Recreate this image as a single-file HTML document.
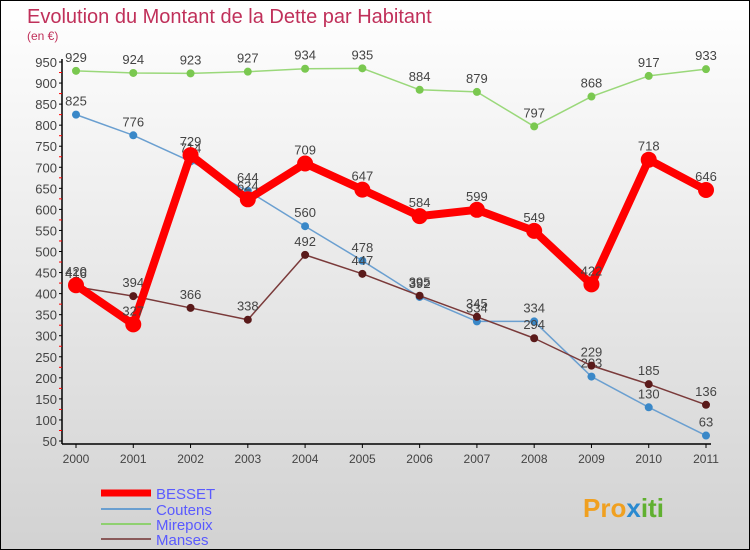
<!DOCTYPE html>
<html><head><meta charset="utf-8"><style>
body{margin:0}
#c{width:748px;height:548px;border:1px solid #000;background:linear-gradient(#fff,#d2d2d2);position:relative;font-family:"Liberation Sans",sans-serif;overflow:hidden}
</style></head><body>
<div id="c">
<svg id="s" width="748" height="548" style="position:absolute;left:0;top:0">
<text x="26" y="22" font-size="20" fill="#c0305a">Evolution du Montant de la Dette par Habitant</text>
<text x="26" y="39" font-size="12" fill="#c0305a">(en €)</text>
<g id="ax"></g><g id="ser"></g>
<g font-size="15" fill="#5a5aff">
<line x1="100" y1="492" x2="150" y2="492" stroke="#f00" stroke-width="7"/>
<text x="155" y="498">BESSET</text>
<line x1="100" y1="508" x2="150" y2="508" stroke="#6a9fd0" stroke-width="2"/>
<text x="155" y="514">Coutens</text>
<line x1="100" y1="523" x2="150" y2="523" stroke="#8fd070" stroke-width="2"/>
<text x="155" y="529">Mirepoix</text>
<line x1="100" y1="538" x2="150" y2="538" stroke="#8a5a5a" stroke-width="2"/>
<text x="155" y="544">Manses</text>
</g>
<text x="582" y="516" font-size="26" font-weight="bold" fill="#f0a020">Pro<tspan fill="#2a8ad0">x</tspan><tspan fill="#60b030">iti</tspan></text>
</svg>
</div>
<script>
const years=["2000","2001","2002","2003","2004","2005","2006","2007","2008","2009","2010","2011"];
const besset=[420,327,729,624,709,647,584,599,549,422,718,646];
const coutens=[825,776,714,644,560,478,392,334,334,203,130,63];
const mirepoix=[929,924,923,927,934,935,884,879,797,868,917,933];
const manses=[416,394,366,338,492,447,395,345,294,229,185,136];
const yTicks=[50,100,150,200,250,300,350,400,450,500,550,600,650,700,750,800,850,900,950];
const NS="http://www.w3.org/2000/svg";
const X=i=>75+i*(630/11), Y=v=>440-(v-50)*(379/900);
function mk(t,a,p){const e=document.createElementNS(NS,t);for(const k in a)e.setAttribute(k,a[k]);p.appendChild(e);return e;}
const ax=document.getElementById('ax'), ser=document.getElementById('ser');
let l=mk('line',{x1:61,y1:58,x2:61,y2:443,stroke:'#000','stroke-width':1.5},ax);


l=mk('line',{x1:61,y1:443,x2:710,y2:443,stroke:'#000','stroke-width':1.5},ax);


yTicks.forEach((v,i)=>{
 mk('line',{x1:58,y1:Y(v),x2:61,y2:Y(v),stroke:'#000'},ax);
 if(i<yTicks.length-1) mk('line',{x1:58,y1:Y(v+25),x2:61,y2:Y(v+25),stroke:'#f00'},ax);
 const t=mk('text',{x:56,y:Y(v)+5,'text-anchor':'end','font-size':13,fill:'#444'},ax);t.textContent=v;
 
 
});
years.forEach((y,i)=>{
 mk('line',{x1:X(i),y1:443,x2:X(i),y2:447,stroke:'#000'},ax);
 const t=mk('text',{x:X(i),y:462,'text-anchor':'middle','font-size':12,fill:'#444'},ax);t.textContent=y;
 
 
});
function series(vals,col,w,r,dot,name){
 const g=mk('g',{},ser);
 
 
 const p=mk('polyline',{points:vals.map((v,i)=>X(i)+','+Y(v)).join(' '),fill:'none',stroke:col,'stroke-width':w,'stroke-linejoin':'round'},g);
 
 
 vals.forEach((v,i)=>{
  const c=mk('circle',{cx:X(i),cy:Y(v),r:r,fill:dot},g);
  
  
  const t=mk('text',{x:X(i),y:Y(v)-9,'text-anchor':'middle','font-size':13,fill:'#444'},g);t.textContent=v;
  
  
 });
}
series(mirepoix,'#9ad87a',1.5,4,'#7ac850','mirepoix');
series(coutens,'#6a9fd0',1.5,4,'#3a88c8','coutens');
series(manses,'#7a3a3a',1.5,4,'#5a1a1a','manses');
series(besset,'#f00',8,8,'#f00','besset');
</script>
</body></html>
